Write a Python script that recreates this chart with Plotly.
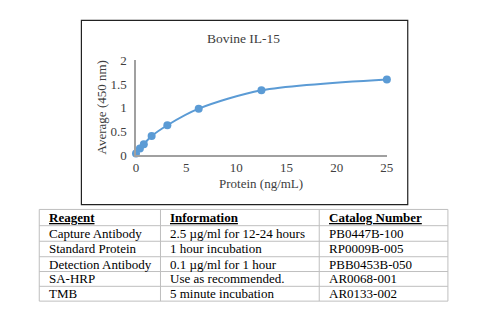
import plotly.graph_objects as go

# Data
protein = [0, 0.39, 0.78, 1.56, 3.125, 6.25, 12.5, 25]
average = [0.03, 0.14, 0.23, 0.40, 0.63, 0.98, 1.37, 1.60]
x_ticks = [0, 5, 10, 15, 20, 25]
y_ticks = [0, 0.5, 1, 1.5, 2]

table_header = ["Reagent", "Information", "Catalog Number"]
reagents = ["Capture Antibody", "Standard Protein", "Detection Antibody", "SA-HRP", "TMB"]
information = ["2.5 \u00b5g/ml for 12-24 hours", "1 hour incubation", "0.1 \u00b5g/ml for 1 hour",
               "Use as recommended.", "5 minute incubation"]
catalog = ["PB0447B-100", "RP0009B-005", "PBB0453B-050", "AR0068-001", "AR0133-002"]

W, H = 500, 333
FONT = "Liberation Serif"
BLUE = "#5B9BD5"
TXT = "#404040"

def px(x):
    return x / W

def py(y):
    return 1 - y / H

fig = go.Figure()
fig.add_trace(go.Scatter(
    x=protein, y=average, mode="lines+markers",
    line=dict(color=BLUE, width=2, shape="spline", smoothing=0.8),
    marker=dict(color=BLUE, size=8),
    cliponaxis=False, showlegend=False))

shapes = [dict(type="rect", xref="paper", yref="paper",
               x0=px(80), x1=px(413), y0=py(207), y1=py(14),
               line=dict(color="#222222", width=1.2), layer="below")]
annotations = [
    dict(text="Bovine IL-15", xref="paper", yref="paper", x=px(245), y=py(33),
         xanchor="center", yanchor="middle",
         showarrow=False, font=dict(family=FONT, size=13.5, color=TXT)),
    dict(text="Protein (ng/mL)", xref="paper", yref="paper", x=px(263.7), y=py(185),
         xanchor="center", yanchor="middle",
         showarrow=False, font=dict(family=FONT, size=13, color=TXT)),
    dict(text="Average (450 nm)", xref="paper", yref="paper", x=px(100.7), y=py(105.5),
         xanchor="center", yanchor="middle",
         showarrow=False, textangle=-90, font=dict(family=FONT, size=13, color=TXT)),
]

# Table geometry (layout only)
col_x = [37, 160.7, 322.7, 454]
row_y = [212, 229, 245.3, 261.5, 277, 292.5, 308]
grid = "#BFBFBF"
for xv in col_x:
    shapes.append(dict(type="line", xref="paper", yref="paper", x0=px(xv), x1=px(xv),
                       y0=py(row_y[0]), y1=py(row_y[-1]), line=dict(color=grid, width=1)))
for yv in row_y:
    shapes.append(dict(type="line", xref="paper", yref="paper", x0=px(col_x[0]), x1=px(col_x[-1]),
                       y0=py(yv), y1=py(yv), line=dict(color=grid, width=1)))

columns = [reagents, information, catalog]
for c, head in enumerate(table_header):
    annotations.append(dict(text="<b><u>%s</u></b>" % head, xref="paper", yref="paper",
                            x=px(col_x[c] + 8), y=py((row_y[0] + row_y[1]) / 2),
                            xanchor="left", yanchor="middle", showarrow=False,
                            font=dict(family=FONT, size=13, color="black")))
    for r, val in enumerate(columns[c]):
        annotations.append(dict(text=val, xref="paper", yref="paper",
                                x=px(col_x[c] + 8), y=py((row_y[r + 1] + row_y[r + 2]) / 2),
                                xanchor="left", yanchor="middle", showarrow=False,
                                font=dict(family=FONT, size=13, color="black")))

fig.update_layout(
    width=W, height=H, margin=dict(l=0, r=0, t=0, b=0),
    paper_bgcolor="white", plot_bgcolor="white",
    font=dict(family=FONT, size=13, color=TXT),
    xaxis=dict(domain=[px(135.7), px(391.7)], range=[0, 25], tickvals=x_ticks,
               showgrid=False, zeroline=False, showline=True, linecolor="#A0A0A0",
               linewidth=1.5, ticks="", tickfont=dict(size=13, color=TXT)),
    yaxis=dict(domain=[py(155), py(56)], range=[0, 2], tickvals=y_ticks,
               showgrid=False, zeroline=False, showline=True, linecolor="#A0A0A0",
               linewidth=1.5, ticks="", ticklabelstandoff=5, tickfont=dict(size=13, color=TXT)),
    shapes=shapes,
    annotations=annotations,
)

fig.write_html("out.html")
